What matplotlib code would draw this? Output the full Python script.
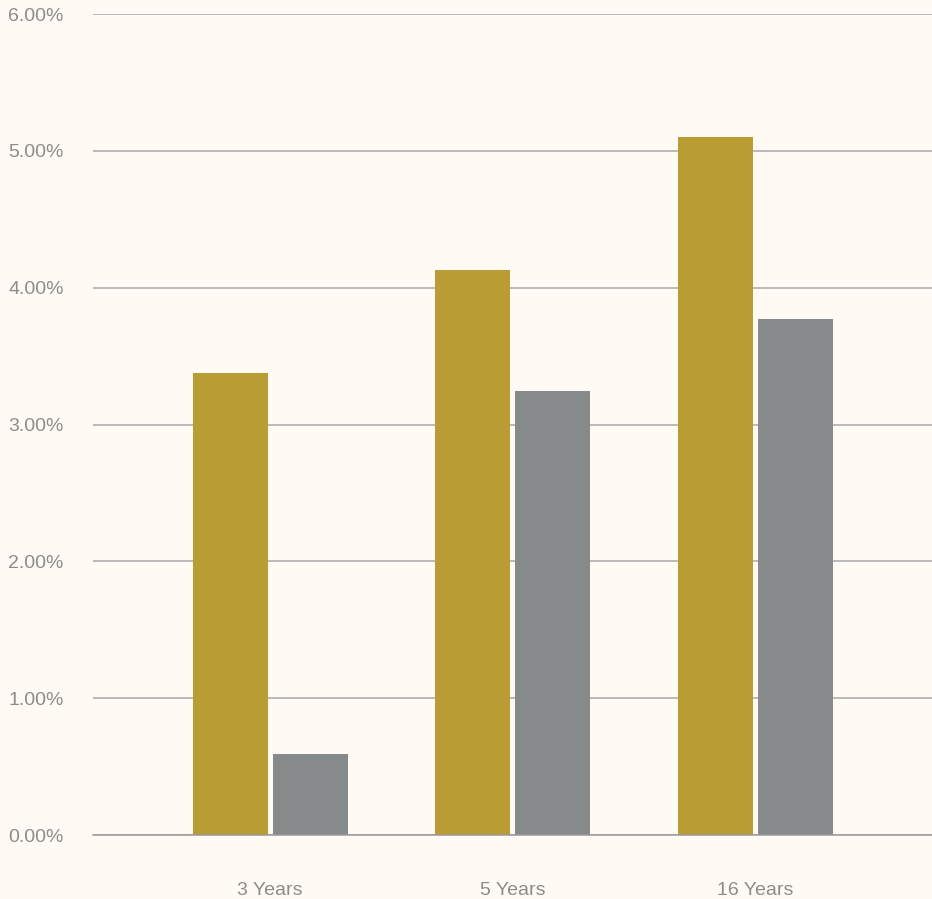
import matplotlib
matplotlib.use("Agg")
import matplotlib.pyplot as plt
import numpy as np

categories = ["3 Years", "5 Years", "16 Years"]
series_a = [3.38, 4.13, 5.10]
series_b = [0.59, 3.245, 3.77]
yticks = [0, 1, 2, 3, 4, 5, 6]
ytick_labels = ["0.00%", "1.00%", "2.00%", "3.00%", "4.00%", "5.00%", "6.00%"]

bg = "#FFFBF4"
gold = "#B99D34"
gray = "#878A8B"
txt = "#8C8C8C"

plt.rcParams['font.family'] = ['Liberation Sans', 'DejaVu Sans']

fig = plt.figure(figsize=(9.32, 8.99), dpi=100, facecolor=bg)
W, H = 932, 899
ax = fig.add_axes([93 / W, 1 - 835 / H, (932 - 93) / W, (835 - 14) / H])
ax.set_facecolor(bg)

x = np.arange(len(categories))
# spacing 242.5 px per category; bar width 75 px; gap 5 px
unit = 242.5
bw = 75 / unit
gap = 5 / unit
ax.bar(x - (bw + gap) / 2, series_a, width=bw, color=gold, zorder=3)
ax.bar(x + (bw + gap) / 2, series_b, width=bw, color=gray, zorder=3)

ax.set_xlim(-177 / unit, 2 + 177 / unit)
ax.set_ylim(0, 6)
ax.set_yticks(yticks)
ax.set_yticklabels(ytick_labels)
ax.set_xticks(x)
ax.set_xticklabels(categories)

ax.grid(axis='y', color="#A8A8A8", linewidth=1.1, zorder=1)
for s in ["top", "right", "left"]:
    ax.spines[s].set_visible(False)
ax.spines["bottom"].set_color("#9A9A9A")
ax.spines["bottom"].set_linewidth(1.1)
ax.spines["bottom"].set_zorder(4)

ax.tick_params(axis='y', length=0, pad=21, labelsize=14, labelcolor=txt)
ax.tick_params(axis='x', length=0, pad=34, labelsize=14, labelcolor=txt)

fig.savefig("out.png", dpi=100, facecolor=bg)
